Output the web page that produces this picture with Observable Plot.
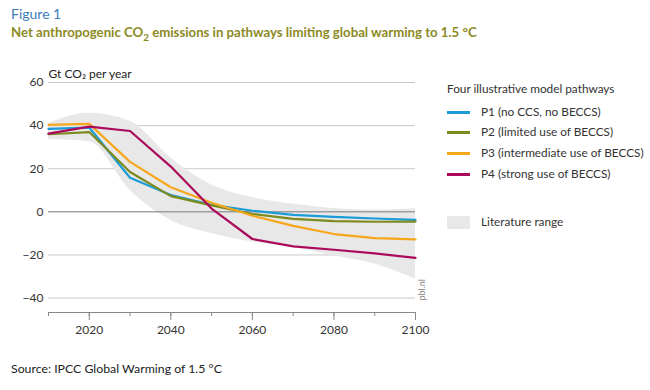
<!DOCTYPE html>
<html>
<head>
<meta charset="utf-8">
<script src="https://cdn.jsdelivr.net/npm/d3@7"></script>
<script src="https://cdn.jsdelivr.net/npm/@observablehq/plot@0.6"></script>
<style>
  html, body { margin: 0; padding: 0; background: #fff; }
  #wrap { position: relative; width: 650px; height: 390px; font-family: Lato, "Open Sans", sans-serif; overflow: hidden; }
  .abs { position: absolute; white-space: nowrap; }
  #fig { left: 11px; top: 5px; font-size: 14px; color: #3d7cb8; }
  #title { left: 11px; top: 24px; font-size: 13.2px; font-weight: bold; color: #8c8a1f; }
  #chart { left: 0; top: 50px; }
  #source { left: 11px; top: 361px; font-size: 12.3px; color: #222; }
  .lg { font-size: 11.8px; color: #333; }
  .sw { position: absolute; width: 23px; height: 2.5px; }
</style>
</head>
<body>
<div id="wrap">
  <div id="fig" class="abs">Figure 1</div>
  <div id="title" class="abs">Net anthropogenic CO<sub style="font-size:10px">2</sub> emissions in pathways limiting global warming to 1.5 °C</div>
  <div id="chart" class="abs"></div>
  <div id="source" class="abs">Source: IPCC Global Warming of 1.5 °C</div>
  <div id="legend"></div>
</div>
<script>
const years = [2010, 2020, 2030, 2040, 2050, 2060, 2070, 2080, 2090, 2100];
const p1 = [38.5, 39.1, 15.8, 7.8, 3.3, 0.5, -1.4, -2.3, -3.1, -3.7];
const p2 = [36.0, 37.0, 18.5, 7.3, 3.0, -1.0, -3.3, -4.3, -4.6, -4.5];
const p3 = [40.3, 40.8, 23.2, 11.4, 4.2, -1.8, -6.5, -10.3, -12.2, -12.8];
const p4 = [36.3, 39.5, 37.5, 21.0, 1.5, -12.6, -16.0, -17.6, -19.3, -21.4];
const rangeHigh = [41.0, 45.7, 42.0, 25.0, 12.5, 6.7, 3.6, 1.5, 0.8, 1.6];
const rangeLow = [33.5, 32.5, 10.0, -4.0, -10.0, -14.0, -16.5, -20.4, -24.2, -31.2];
const seriesNames = ["P1 (no CCS, no BECCS)", "P2 (limited use of BECCS)", "P3 (intermediate use of BECCS)", "P4 (strong use of BECCS)"];
const seriesColors = ["#1b9bd7", "#7d8a1e", "#f6a71c", "#ab0a5c"];
const yTicks = [-40, -20, 0, 20, 40, 60];
const xLabelTicks = [2020, 2040, 2060, 2080, 2100];
const xMinorTicks = [2010, 2020, 2030, 2040, 2050, 2060, 2070, 2080, 2090, 2100];
const legendTitle = "Four illustrative model pathways";
const rangeName = "Literature range";
const unitLabel = "Gt CO₂ per year";

const allSeries = [p1, p2, p3, p4];
const lines = [];
allSeries.forEach((s, i) => s.forEach((v, j) => lines.push({year: years[j], value: v, series: seriesNames[i]})));
const band = years.map((y, j) => ({year: y, low: rangeLow[j], high: rangeHigh[j]}));
const yMin = -46.7;

const plot = Plot.plot({
  width: 650,
  height: 292,
  marginLeft: 48,
  marginRight: 235,
  marginTop: 32,
  marginBottom: 30,
  style: {fontFamily: "Lato, 'Open Sans', sans-serif", fontSize: "12px", color: "#333", background: "transparent"},
  x: {domain: [2010, 2100]},
  y: {domain: [yMin, 60]},
  color: {domain: seriesNames, range: seriesColors},
  marks: [
    Plot.gridY(yTicks.filter(d => d !== 0), {stroke: "#c8c8c8", strokeOpacity: 1, strokeWidth: 1}),
    Plot.areaY(band, {x: "year", y1: "low", y2: "high", fill: "#e8e8e8", curve: "monotone-x"}),
    Plot.ruleY([0], {stroke: "#7a7a7a", strokeWidth: 1}),
    Plot.line(lines, {x: "year", y: "value", z: "series", stroke: "series", strokeWidth: 2.2}),
    Plot.ruleY([yMin], {stroke: "#888", strokeWidth: 1}),
    Plot.axisY({ticks: yTicks, tickSize: 0, tickPadding: 5, label: null, fontSize: 12}),
    Plot.axisX({ticks: xMinorTicks, tickSize: 4, tickFormat: () => "", label: null, stroke: "#888"}),
    Plot.axisX({ticks: xLabelTicks, tickSize: 8, tickPadding: 5, tickFormat: d => String(d), label: null, stroke: "#888", fontSize: 12}),
    Plot.text([unitLabel], {frameAnchor: "top-left", dy: -13, textAnchor: "start", fontSize: 12, fill: "#222"}),
    Plot.text(["pbl.nl"], {frameAnchor: "bottom-right", rotate: -90, dx: 9, dy: -12, textAnchor: "start", fontSize: 9, fill: "#888"})
  ]
});
document.getElementById("chart").appendChild(plot);

// legend
const lg = document.getElementById("legend");
function addText(txt, x, y) {
  const d = document.createElement("div");
  d.className = "abs lg";
  d.style.left = x + "px";
  d.style.top = (y - 8) + "px";
  d.textContent = txt;
  lg.appendChild(d);
}
addText(legendTitle, 447, 89);
const rowY = [112, 132, 153, 174];
seriesNames.forEach((n, i) => {
  const s = document.createElement("div");
  s.className = "sw";
  s.style.left = "447px";
  s.style.top = (rowY[i] - 1) + "px";
  s.style.background = seriesColors[i];
  lg.appendChild(s);
  addText(n, 481, rowY[i]);
});
const box = document.createElement("div");
box.className = "sw";
box.style.left = "447px"; box.style.top = "216px"; box.style.height = "13px"; box.style.background = "#e8e8e8";
lg.appendChild(box);
addText(rangeName, 481, 222);
</script>
</body>
</html>
